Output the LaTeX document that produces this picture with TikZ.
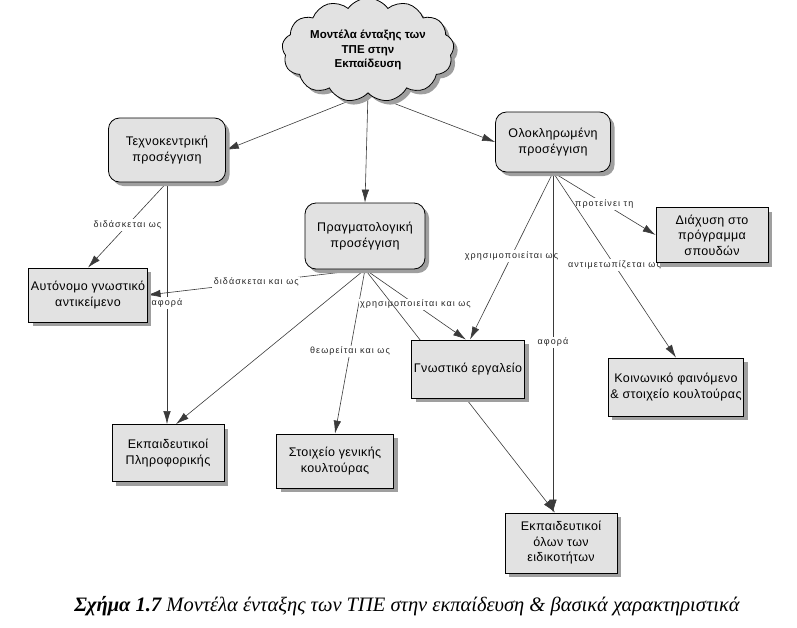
\documentclass[tikz,border=0pt]{standalone}
\usepackage{fontspec}
\setmainfont{Liberation Sans}
\newfontfamily\capfont{Liberation Serif}
\newfontfamily\lblfont[LetterSpace=12]{Liberation Sans}
\newfontfamily\boxfont[LetterSpace=3]{Liberation Sans}
\usetikzlibrary{shapes.symbols,shadows,arrows.meta,backgrounds}
\definecolor{boxfill}{HTML}{E2E2E2}
\definecolor{linecol}{HTML}{3A3A3A}
\tikzset{
  boxbase/.style={draw=black, line width=0.8pt, fill=boxfill, align=center, inner sep=2pt,
    font=\boxfont\fontsize{12.5}{15.5}\selectfont,
    drop shadow={shadow xshift=4pt, shadow yshift=-4pt, fill=gray!75, opacity=1}},
  roundbox/.style={boxbase, rounded corners=11pt},
  sqbox/.style={boxbase},
  cloudbox/.style={cloud, cloud puffs=13, cloud puff arc=110, aspect=1.9, draw=black, line width=0.8pt,
    fill=boxfill, align=center, inner sep=0pt, font=\bfseries\fontsize{11.5}{14.5}\selectfont,
    drop shadow={shadow xshift=4pt, shadow yshift=-4pt, fill=gray!75, opacity=1}},
  conn/.style={draw=linecol, line width=0.6pt, -{Latex[length=13pt,width=7.5pt]}},
  lbl/.style={fill=white, inner sep=1.5pt, font=\lblfont\fontsize{9}{10}\selectfont, text=black!85}
}
\begin{document}
\begin{tikzpicture}[x=1pt,y=-1pt]
\useasboundingbox (0,0) rectangle (797,627);
% nodes
\node[cloudbox, minimum width=172pt, minimum height=94pt] (cloud) at (368,50) {Μοντέλα ένταξης των\\ΤΠΕ στην\\Εκπαίδευση};
\node[roundbox, minimum width=117pt, minimum height=64pt] (tech) at (167,150) {Τεχνοκεντρική\\προσέγγιση};
\node[roundbox, minimum width=115pt, minimum height=60pt] (olok) at (553,142) {Ολοκληρωμένη\\προσέγγιση};
\node[roundbox, minimum width=120pt, minimum height=66pt] (pragm) at (365,236) {Πραγματολογική\\προσέγγιση};
\node[sqbox, minimum width=111pt, minimum height=54pt] (auto) at (88,295) {Αυτόνομο γνωστικό\\αντικείμενο};
\node[sqbox, minimum width=112pt, minimum height=55pt] (diax) at (712,235) {Διάχυση στο\\πρόγραμμα\\σπουδών};
\node[sqbox, minimum width=113pt, minimum height=58pt] (gnost) at (468,369) {Γνωστικό εργαλείο};
\node[sqbox, minimum width=135pt, minimum height=58pt] (koin) at (676,387) {Κοινωνικό φαινόμενο\\\& στοιχείο κουλτούρας};
\node[sqbox, minimum width=112pt, minimum height=57pt] (ekpl) at (168,453) {Εκπαιδευτικοί\\Πληροφορικής};
\node[sqbox, minimum width=117pt, minimum height=54pt] (stoix) at (335,461) {Στοιχείο γενικής\\κουλτούρας};
\node[sqbox, minimum width=112pt, minimum height=60pt] (ekpol) at (561,543) {Εκπαιδευτικοί\\όλων των\\ειδικοτήτων};
% caption
\node[font=\capfont\itshape\fontsize{20.5}{24}\selectfont, inner sep=0pt] (cap) at (407,606)
  {\textbf{Σχήμα 1.7} Μοντέλα ένταξης των ΤΠΕ στην εκπαίδευση \& βασικά χαρακτηριστικά};
% connectors
\begin{pgfonlayer}{background}
\draw[conn] (cloud.south) -- (tech.east);
\draw[conn] (cloud.south) -- (olok.west);
\draw[conn] (cloud.south) -- (pragm.north);
\draw[conn] (tech.south) -- node[lbl]{διδάσκεται ως} (auto.north);
\draw[conn] (tech.south) -- node[lbl]{αφορά} (tech.south |- ekpl.north);
\draw[conn] (pragm.south) -- node[lbl]{διδάσκεται και ως} (auto.east);
\draw[conn] (pragm.south) -- ([xshift=8pt]ekpl.north);
\draw[conn] (pragm.south) -- node[lbl]{θεωρείται και ως} (stoix.north);
\draw[conn] (pragm.south) -- node[lbl]{χρησιμοποιείται και ως} ([xshift=-2pt]gnost.north);
\draw[conn] (pragm.south) -- ([xshift=-6pt]ekpol.north);
\draw[conn] (olok.south) -- node[lbl]{χρησιμοποιείται ως} ([xshift=2pt]gnost.north);
\draw[conn] (olok.south) -- node[lbl]{αφορά} (olok.south |- ekpol.north);
\draw[conn] (olok.south) -- node[lbl]{προτείνει τη} (diax.west);
\draw[conn] (olok.south) -- node[lbl]{αντιμετωπίζεται ως} (koin.north);
\end{pgfonlayer}
\end{tikzpicture}
\end{document}
